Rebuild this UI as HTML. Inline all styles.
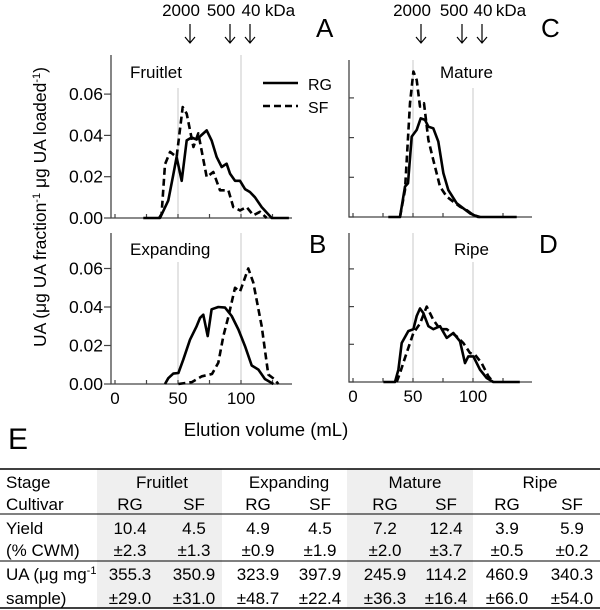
<!DOCTYPE html>
<html><head><meta charset="utf-8"><style>
body{margin:0;background:#fff;}
svg{display:block;font-family:"Liberation Sans",sans-serif;}
</style></head><body>
<svg id="fig" width="600" height="610" viewBox="0 0 600 610">
<g id="plots"></g>
<g id="tbl"></g>
</svg>
<script>
// ---- chart data ----
const xTicks = [0, 25, 50, 75, 100, 125];
const xTickLabels = ["0", "50", "100"];
const yTicks = [0, 0.02, 0.04, 0.06];
const yTickLabels = ["0.00", "0.02", "0.04", "0.06"];
const fruitletRGx = [22.5,35.7,42.3,46.3,48.9,52.9,56.9,60.8,64.8,72.8,76.7,80.7,84.7,88.6,91.3,95.2,99.2,103.2,107.1,111.1,116.4,124.4,138];
const fruitletRGy = [0,0,0.0085,0.021,0.0295,0.018,0.0376,0.039,0.038,0.0424,0.0376,0.0295,0.0247,0.0263,0.0215,0.018,0.018,0.014,0.0126,0.010,0.0053,0,0];
const fruitletSFx = [35,37,39.7,43.7,48.9,53.7,56.9,62.2,66.1,72.8,78,83.3,90,93.9,99.2,104.5,109.8,115.1,120.4];
const fruitletSFy = [0,0.002,0.026,0.032,0.0295,0.0537,0.0505,0.0344,0.041,0.0198,0.0223,0.0134,0.0134,0.0053,0.0037,0.0053,0.0013,0.003,0];
const expandRGx = [39.7,42.3,46.3,50.3,54.2,59.5,64.8,67.5,70.1,73.6,76.7,82,87.3,92.6,97.9,103.2,108.5,113.8,119,125.7];
const expandRGy = [0,0.003,0.0054,0.0057,0.0127,0.023,0.030,0.0344,0.036,0.0249,0.0388,0.040,0.0397,0.0353,0.0283,0.0197,0.0096,0.0075,0.0026,0];
const expandSFx = [50.3,61,69,77,82,86,90,95.2,99.2,105.8,109.8,116.4,121.7,127,129.6];
const expandSFy = [0,0.001,0.004,0.0052,0.011,0.025,0.035,0.050,0.048,0.060,0.0527,0.030,0.0049,0.0023,0];
const matureRGx = [29.4,39.2,43.3,45.8,48.9,53.1,56.4,60,62.8,66.9,71.1,75.3,79.4,86.4,91.9,97.5,104.4,136.4];
const matureRGy = [0,0,0.0153,0.017,0.0405,0.0439,0.0497,0.0489,0.0455,0.0447,0.038,0.022,0.0136,0.0069,0.0044,0.0018,0,0];
const matureSFx = [39.2,43.3,47.5,50.3,53.1,55.8,59.2,62.8,66.9,72.5,78.1,83.6,89.2,94.7,100.3,105.8];
const matureSFy = [0,0.0136,0.0573,0.0733,0.069,0.0556,0.0573,0.0388,0.0287,0.0153,0.0103,0.0077,0.0052,0.0035,0.001,0];
const ripeRGx = [25.3,35,37.8,40.6,46.1,50.3,53.1,55.8,58.6,62.8,66.9,72.5,78.1,83.6,89.2,93.3,96.1,100.3,105.8,111.4,116.9,139];
const ripeRGy = [0,0,0.0065,0.0207,0.027,0.028,0.035,0.039,0.0366,0.0296,0.028,0.0296,0.0234,0.026,0.0216,0.010,0.0136,0.0136,0.0065,0.0021,0,0];
const ripeSFx = [36.4,39.2,44.7,50.3,55.8,61.4,66.9,72.5,78.1,86.4,91.9,97.5,101.7,107.2,112.8,116.9];
const ripeSFy = [0,0.0048,0.0154,0.026,0.031,0.040,0.033,0.028,0.028,0.0242,0.0207,0.0154,0.0145,0.010,0.003,0];

const NS = "http://www.w3.org/2000/svg";
function mk(parent, tag, attrs, text){
  const e = document.createElementNS(NS, tag);
  for (const k in attrs) e.setAttribute(k, attrs[k]);
  if (text !== undefined) e.textContent = text;
  parent.appendChild(e);
  return e;
}
const root = document.getElementById("plots");

const panels = [
  {id:"fruitlet", x0:115, kx:1.26, y0:218, ky:41.3/0.02, top:55, xEnd:292, labels:false, rg:[fruitletRGx,fruitletRGy], sf:[fruitletSFx,fruitletSFy], yl:true, grid:[[50,88],[100,55]]},
  {id:"expanding", x0:115, kx:1.26, y0:384, ky:38.5/0.02, top:233, xEnd:292, labels:true, rg:[expandRGx,expandRGy], sf:[expandSFx,expandSFy], yl:true, grid:[[50,262],[100,233]]},
  {id:"mature", x0:353, kx:1.2, y0:217, ky:39.7/0.02, top:60, xEnd:532, labels:false, rg:[matureRGx,matureRGy], sf:[matureSFx,matureSFy], yl:false, grid:[[50,60],[100,88]]},
  {id:"ripe", x0:353, kx:1.2, y0:382, ky:37.7/0.02, top:233, xEnd:532, labels:true, rg:[ripeRGx,ripeRGy], sf:[ripeSFx,ripeSFy], yl:false, grid:[[50,233],[100,262]]}
];

panels.forEach(p => {
  const g = mk(root, "g", {});
  
  
  const sx = v => p.x0 + v * p.kx;
  const sy = v => p.y0 - v * p.ky;
  p.grid.forEach(gr => {
    const l = mk(g, "line", {x1:sx(gr[0]), x2:sx(gr[0]), y1:gr[1], y2:p.y0, stroke:"#c8c8c8", "stroke-width":1});
    
    
  });
  const ax = mk(g, "path", {d:`M${p.x0-4},${p.top}V${p.y0}H${p.xEnd}`, fill:"none", stroke:"#444", "stroke-width":1.3});
  
  
  yTicks.forEach((t,i) => {
    mk(g, "line", {x1:p.x0-4, x2:p.x0-4+(p.yl?-7:5), y1:sy(t), y2:sy(t), stroke:"#444", "stroke-width":1.2});
    if (p.yl) {
      const tl = mk(g, "text", {x:p.x0-12, y:sy(t)+6, "text-anchor":"end", "font-size":17.5}, yTickLabels[i]);
      
      
    }
  });
  xTicks.forEach(t => {
    mk(g, "line", {x1:sx(t), x2:sx(t), y1:p.y0, y2:p.y0-4, stroke:"#444", "stroke-width":1.2});
  });
  if (p.labels) {
    [0,50,100].forEach((t,i) => {
      const tl = mk(g, "text", {x:sx(t), y:p.y0+20, "text-anchor":"middle", "font-size":17}, xTickLabels[i]);
      
      
    });
  }
  const line = (arr, dash, name) => {
    const d = arr[0].map((x,i) => (i?"L":"M") + sx(x).toFixed(1) + "," + sy(arr[1][i]).toFixed(1)).join("");
    const a = {d:d, fill:"none", stroke:"#000", "stroke-width":2.6, "stroke-linejoin":"round"};
    if (dash) a["stroke-dasharray"] = "7,4";
    const e = mk(g, "path", a);
    
    
  };
  line(p.rg, false, p.id + '-rg-line');
  line(p.sf, true, p.id + '-sf-line');
});
</script>
<svg style="position:absolute;left:0;top:0" width="600" height="610" viewBox="0 0 600 610">
<g font-family="Liberation Sans, sans-serif" fill="#000">
  <text transform="translate(46,207) rotate(-90)" text-anchor="middle" font-size="17.5">UA (μg UA fraction<tspan font-size="11" dy="-6">-1</tspan><tspan dy="6"> μg UA loaded</tspan><tspan font-size="11" dy="-6">-1</tspan><tspan dy="6">)</tspan></text>
  <text x="266" y="436" text-anchor="middle" font-size="18.5">Elution volume (mL)</text>
  <text x="316" y="37" font-size="26">A</text>
  <text x="309" y="253" font-size="26">B</text>
  <text x="541" y="37" font-size="26">C</text>
  <text x="539" y="253" font-size="26">D</text>
  <text x="8" y="449" font-size="30">E</text>
  <text x="130" y="78" font-size="17">Fruitlet</text>
  <text x="440" y="78" font-size="17">Mature</text>
  <text x="130" y="255" font-size="17">Expanding</text>
  <text x="454" y="255" font-size="17">Ripe</text>
  <g>
    <line x1="263" x2="298" y1="83" y2="83" stroke="#000" stroke-width="2.6"/>
    <text x="308" y="90" font-size="16">RG</text>
    <line x1="263" x2="298" y1="106" y2="106" stroke="#000" stroke-width="2.6" stroke-dasharray="7,4"/>
    <text x="308" y="113" font-size="16">SF</text>
  </g>
  <g font-size="17">
    <text x="181" y="16" text-anchor="middle">2000</text>
    <text x="221" y="16" text-anchor="middle">500</text>
    <text x="251" y="16" text-anchor="middle">40</text>
    <text x="280" y="16" text-anchor="middle">kDa</text>
    <text x="412" y="16" text-anchor="middle">2000</text>
    <text x="454" y="16" text-anchor="middle">500</text>
    <text x="483" y="16" text-anchor="middle">40</text>
    <text x="511" y="16" text-anchor="middle">kDa</text>
    <g stroke="#000" stroke-width="1.2" fill="none">
      <path d="M190,24V43M185,37L190,43L195,37"/>
      <path d="M230,24V43M225,37L230,43L235,37"/>
      <path d="M250,24V43M245,37L250,43L255,37"/>
      <path d="M421,24V43M416,37L421,43L426,37"/>
      <path d="M462,24V43M457,37L462,43L467,37"/>
      <path d="M482,24V43M477,37L482,43L487,37"/>
    </g>
  </g>
  <g font-size="17">
    <rect x="97" y="469" width="125" height="139" fill="#efefef"/>
    <rect x="347" y="469" width="126" height="139" fill="#efefef"/>
    <line x1="0" x2="600" y1="469" y2="469" stroke="#000" stroke-width="1.6"/>
    <line x1="0" x2="600" y1="514" y2="514" stroke="#000" stroke-width="1"/>
    <line x1="0" x2="600" y1="561" y2="561" stroke="#000" stroke-width="1"/>
    <line x1="0" x2="600" y1="608" y2="608" stroke="#000" stroke-width="1.6"/>
    <text x="6" y="488">Stage</text>
    <text x="6" y="510">Cultivar</text>
    <text x="6" y="534">Yield</text>
    <text x="6" y="556">(% CWM)</text>
    <text x="6" y="580">UA (μg mg<tspan font-size="11" dy="-6">-1</tspan></text>
    <text x="6" y="604">sample)</text>
    <g text-anchor="middle">
      <text x="162" y="488">Fruitlet</text>
      <text x="289" y="488">Expanding</text>
      <text x="415" y="488">Mature</text>
      <text x="540" y="488">Ripe</text>
      <text x="130" y="510">RG</text><text x="194" y="510">SF</text>
      <text x="258" y="510">RG</text><text x="320" y="510">SF</text>
      <text x="385" y="510">RG</text><text x="446" y="510">SF</text>
      <text x="507" y="510">RG</text><text x="572" y="510">SF</text>
      <text x="130" y="534">10.4</text><text x="194" y="534">4.5</text>
      <text x="258" y="534">4.9</text><text x="320" y="534">4.5</text>
      <text x="385" y="534">7.2</text><text x="446" y="534">12.4</text>
      <text x="507" y="534">3.9</text><text x="572" y="534">5.9</text>
      <text x="130" y="556">±2.3</text><text x="194" y="556">±1.3</text>
      <text x="258" y="556">±0.9</text><text x="320" y="556">±1.9</text>
      <text x="385" y="556">±2.0</text><text x="446" y="556">±3.7</text>
      <text x="507" y="556">±0.5</text><text x="572" y="556">±0.2</text>
      <text x="130" y="580">355.3</text><text x="194" y="580">350.9</text>
      <text x="258" y="580">323.9</text><text x="320" y="580">397.9</text>
      <text x="385" y="580">245.9</text><text x="446" y="580">114.2</text>
      <text x="507" y="580">460.9</text><text x="572" y="580">340.3</text>
      <text x="130" y="604">±29.0</text><text x="194" y="604">±31.0</text>
      <text x="258" y="604">±48.7</text><text x="320" y="604">±22.4</text>
      <text x="385" y="604">±36.3</text><text x="446" y="604">±16.4</text>
      <text x="507" y="604">±66.0</text><text x="572" y="604">±54.0</text>
    </g>
  </g>
</g>
</svg>
</body></html>
